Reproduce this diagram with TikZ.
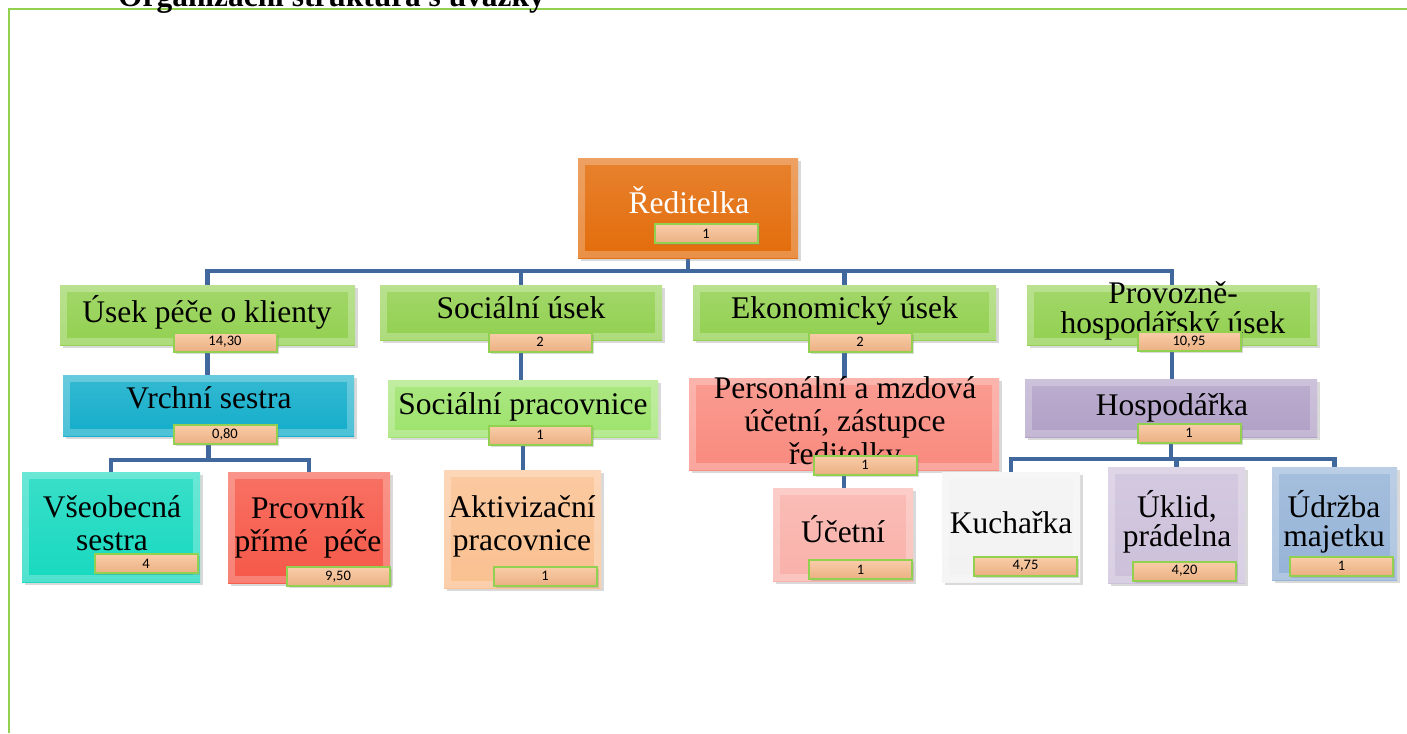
\documentclass[tikz,border=0pt]{standalone}
\usepackage{fontspec}
\setmainfont{Liberation Serif}
\newfontfamily\badgefont{Carlito}
\usetikzlibrary{shadows,backgrounds,fit}
\definecolor{cOrange}{HTML}{E36C0A}
\definecolor{cGreen}{HTML}{92D050}
\definecolor{cCyan}{HTML}{12ADCA}
\definecolor{cLgreen}{HTML}{9DE36C}
\definecolor{cSalmon}{HTML}{F98A7E}
\definecolor{cLav}{HTML}{B0A0C6}
\definecolor{cTurq}{HTML}{17D9BF}
\definecolor{cRed}{HTML}{F65848}
\definecolor{cPeach}{HTML}{FAC090}
\definecolor{cPink}{HTML}{F9B1AA}
\definecolor{cGray}{HTML}{F2F2F2}
\definecolor{cLlav}{HTML}{CCC0DA}
\definecolor{cBlue}{HTML}{95B3D7}
\definecolor{connblue}{HTML}{41689C}
\definecolor{badgeline}{HTML}{92D050}
\definecolor{badgetop}{HTML}{F9CDA9}
\definecolor{badgebot}{HTML}{EBB083}
\definecolor{frameline}{HTML}{92D050}
\tikzset{
  orgbox/.style={rectangle, draw=none, inner sep=0pt,
    drop shadow={shadow xshift=2.5pt, shadow yshift=-3pt, opacity=.3}},
  boxtext/.style={font=\fontsize{31.5}{33}\selectfont, align=center,
    inner sep=0pt, anchor=base, text=black},
  badge/.style={rectangle, draw=badgeline, line width=2pt,
    top color=badgetop, bottom color=badgebot,
    minimum width=103pt, minimum height=19pt, inner sep=0pt,
    font=\badgefont\fontsize{14.5}{14.5}\selectfont,
    drop shadow={shadow xshift=2pt, shadow yshift=-2pt, opacity=.3}},
  conn/.style={draw=connblue, line width=4.5pt},
  frameline/.style={draw=frameline, line width=2pt},
}
\newcommand\orgrect[4]{%
  \node[orgbox, fit={#2 #3}, top color=#4!85!white, bottom color=#4] (#1) {};
  \fill[white, opacity=.25, even odd rule]
    (#1.north west) rectangle (#1.south east)
    ([xshift=7pt,yshift=-7pt]#1.north west) rectangle ([xshift=-7pt,yshift=7pt]#1.south east);
}
\begin{document}
\begin{tikzpicture}[x=1pt,y=-1pt]
\useasboundingbox (0,0) rectangle (1407,733);
% frame and title
\coordinate (fbl) at (8.5,733);
\coordinate (ftl) at (8.5,9.5);
\coordinate (ftr) at (1407,9.5);
\draw[frameline] (fbl) -- (ftl) -- (ftr);
\node[anchor=base, inner sep=0pt, font=\bfseries\fontsize{31.4}{33}\selectfont] (title) at (331.5,7) {Organizační struktura s úvazky};

% boxes
\orgrect{red}{(578,158)}{(798,258)}{cOrange}
\node[boxtext, text=white] (redt) at (689,213) {Ředitelka};
\node[badge] (redb) at (706,233.5) {1};

\orgrect{la}{(60,285)}{(355,345)}{cGreen}
\node[boxtext] (lat) at (207,322) {Úsek péče o klienty};
\node[badge] (lab) at (225,342) {14,30};

\orgrect{lb}{(380,285)}{(662,340)}{cGreen}
\node[boxtext] (lbt) at (521,318) {Sociální úsek};
\node[badge] (lbb) at (540,342) {2};

\orgrect{lc}{(693,285)}{(996,340)}{cGreen}
\node[boxtext] (lct) at (844.5,318) {Ekonomický úsek};
\node[badge] (lcb) at (860,342) {2};

\orgrect{ld}{(1027,285)}{(1317,345)}{cGreen}
\node[boxtext, font=\fontsize{31.5}{30}\selectfont] (ldt) at (1173,333) {Provozně-\\hospodářský úsek};
\node[badge] (ldb) at (1189,341.5) {10,95};

\orgrect{vs}{(63,375)}{(354,436)}{cCyan}
\node[boxtext] (vst) at (209,408) {Vrchní sestra};
\node[badge] (vsb) at (225,434) {0,80};

\orgrect{sp}{(388,380)}{(658,437)}{cLgreen}
\node[boxtext] (spt) at (523,414) {Sociální pracovnice};
\node[badge] (spb) at (540,435) {1};

\orgrect{pe}{(689,378)}{(999,470)}{cSalmon}
\node[boxtext] (pet) at (845,464) {Personální a mzdová\\účetní, zástupce\\ředitelky};
\node[badge] (peb) at (865,465) {1};

\orgrect{ho}{(1025,379)}{(1317,437)}{cLav}
\node[boxtext] (hot) at (1172,415) {Hospodářka};
\node[badge] (hob) at (1189,433) {1};

\orgrect{ve}{(22,472)}{(200,582)}{cTurq}
\node[boxtext] (vet) at (112,550) {Všeobecná\\sestra};
\node[badge] (veb) at (146,563.5) {4};

\orgrect{pr}{(228,472)}{(390,583)}{cRed}
\node[boxtext] (prt) at (308,551) {Prcovník\\přímé~~péče};
\node[badge] (prb) at (338,576.5) {9,50};

\orgrect{ak}{(444,470)}{(601,588)}{cPeach}
\node[boxtext] (akt) at (522,550) {Aktivizační\\pracovnice};
\node[badge] (akb) at (545,576) {1};

\orgrect{uc}{(773,488)}{(913,581)}{cPink}
\node[boxtext] (uct) at (843,542) {Účetní};
\node[badge] (ucb) at (860.5,569.5) {1};

\orgrect{ku}{(942,472)}{(1080,582)}{cGray}
\node[boxtext] (kut) at (1011,533) {Kuchařka};
\node[badge] (kub) at (1025.5,566) {4,75};

\orgrect{uk}{(1108,467)}{(1245,583)}{cLlav}
\node[boxtext, font=\fontsize{31.5}{29}\selectfont] (ukt) at (1177,546) {Úklid,\\prádelna};
\node[badge] (ukb) at (1184.5,571) {4,20};

\orgrect{ud}{(1272,467)}{(1397,580)}{cBlue}
\node[boxtext, font=\fontsize{31.5}{29}\selectfont] (udt) at (1334,546) {Údržba\\majetku};
\node[badge] (udb) at (1341.5,566) {1};

% connectors
\begin{scope}[on background layer]
\coordinate (busA) at (0,271);
\coordinate (busB) at (0,460);
\coordinate (busC) at (0,459);
\draw[conn] (red.south) -- (red.south |- busA);
\draw[conn] (la.north) -- (la.north |- busA) -- (ld.north |- busA) -- (ld.north);
\draw[conn] (lb.north) -- (lb.north |- busA);
\draw[conn] (lc.north) -- (lc.north |- busA);
\draw[conn] (la.south) -- (la.south |- vs.north);
\draw[conn] (vs.south) -- (vs.south |- busB);
\draw[conn] (ve.north) -- (ve.north |- busB) -- (pr.north |- busB) -- (pr.north);
\draw[conn] (lb.south) -- (lb.south |- sp.north);
\draw[conn] (sp.south) -- (sp.south |- ak.north);
\draw[conn] (lc.south) -- (lc.south |- pe.north);
\draw[conn] (pe.south) -- (pe.south |- uc.north);
\draw[conn] (ld.south) -- (ld.south |- ho.north);
\draw[conn] (ho.south) -- (ho.south |- busC);
\draw[conn] (ku.north) -- (ku.north |- busC) -- (ud.north |- busC) -- (ud.north);
\draw[conn] (uk.north) -- (uk.north |- busC);
\end{scope}
\end{tikzpicture}
\end{document}
